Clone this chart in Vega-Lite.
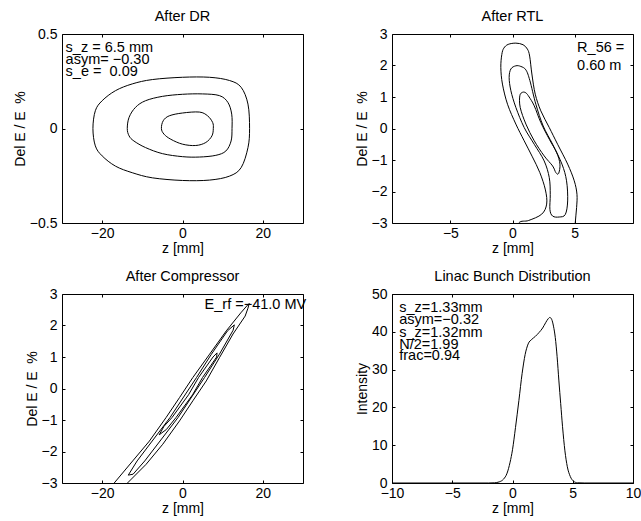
{
"$schema": "https://vega.github.io/schema/vega-lite/v6.json",
"padding": {"left": 12, "top": 8, "right": 0, "bottom": 0},
"background": "white",
"config": {
 "font": "Liberation Sans",
 "view": {"stroke": "black", "strokeWidth": 1},
 "axis": {"grid": false, "domain": false, "tickColor": "black", "tickWidth": 1, "tickSize": -3, "labelFont": "Liberation Sans", "labelFontSize": 14, "labelColor": "black", "titleFont": "Liberation Sans", "titleFontSize": 14, "titleFontWeight": "normal", "titleColor": "black", "labelFlush": false, "labelOverlap": false},
 "axisX": {"titlePadding": 1, "labelPadding": 6},
 "axisY": {"titlePadding": 2, "labelPadding": 8},
 "title": {"font": "Liberation Sans", "fontSize": 14.5, "fontWeight": "normal", "color": "black", "offset": 3},
 "text": {"font": "Liberation Sans", "fontSize": 14.5, "color": "black"},
 "line": {"color": "black", "strokeWidth": 1}
},
"columns": 2,
"spacing": {"row": 71, "column": 89},
"bounds": "flush",
"concat": [
{
 "width": 241, "height": 189, "title": "After DR",
 "layer": [
  {"data": {"values": [
{"c":1,"x":-22.3,"y":0},{"c":1,"x":-21.7,"y":0.094},{"c":1,"x":-20.0,"y":0.147},{"c":1,"x":-16.7,"y":0.2},{"c":1,"x":-12.5,"y":0.236},{"c":1,"x":-7.5,"y":0.259},{"c":1,"x":0,"y":0.271},{"c":1,"x":6.7,"y":0.271},{"c":1,"x":11.7,"y":0.254},{"c":1,"x":14.6,"y":0.218},{"c":1,"x":16.3,"y":0.129},{"c":1,"x":16.7,"y":0},{"c":1,"x":16.3,"y":-0.101},{"c":1,"x":14.6,"y":-0.207},{"c":1,"x":11.7,"y":-0.252},{"c":1,"x":6.7,"y":-0.273},{"c":1,"x":0,"y":-0.275},{"c":1,"x":-7.5,"y":-0.261},{"c":1,"x":-12.5,"y":-0.234},{"c":1,"x":-16.7,"y":-0.199},{"c":1,"x":-20.0,"y":-0.145},{"c":1,"x":-21.7,"y":-0.092},
{"c":2,"x":-13.75,"y":0},{"c":2,"x":-13.3,"y":0.059},{"c":2,"x":-11.7,"y":0.112},{"c":2,"x":-9.2,"y":0.147},{"c":2,"x":-5,"y":0.17},{"c":2,"x":0,"y":0.181},{"c":2,"x":5,"y":0.183},{"c":2,"x":9.2,"y":0.174},{"c":2,"x":11.3,"y":0.138},{"c":2,"x":12.25,"y":0.076},{"c":2,"x":12.33,"y":0},{"c":2,"x":12.1,"y":-0.066},{"c":2,"x":10.8,"y":-0.119},{"c":2,"x":8.3,"y":-0.142},{"c":2,"x":4.2,"y":-0.151},{"c":2,"x":0,"y":-0.149},{"c":2,"x":-5,"y":-0.133},{"c":2,"x":-9.2,"y":-0.101},{"c":2,"x":-12.1,"y":-0.066},{"c":2,"x":-13.3,"y":-0.039},
{"c":3,"x":-5.25,"y":0},{"c":3,"x":-4.8,"y":0.041},{"c":3,"x":-3.3,"y":0.067},{"c":3,"x":0,"y":0.082},{"c":3,"x":4.2,"y":0.087},{"c":3,"x":6.25,"y":0.067},{"c":3,"x":7.5,"y":0.032},{"c":3,"x":7.67,"y":0},{"c":3,"x":7.33,"y":-0.039},{"c":3,"x":5.8,"y":-0.074},{"c":3,"x":3.3,"y":-0.09},{"c":3,"x":0,"y":-0.083},{"c":3,"x":-2.9,"y":-0.057},{"c":3,"x":-4.6,"y":-0.03}
  ]},
   "mark": {"type": "line", "interpolate": "cardinal-closed", "clip": true},
   "encoding": {
    "x": {"field": "x", "type": "quantitative", "scale": {"domain": [-30, 30], "nice": false, "zero": false}, "axis": {"orient": "bottom", "values": [-20, 0, 20], "format": "~f", "title": "z [mm]"}},
    "y": {"field": "y", "type": "quantitative", "scale": {"domain": [-0.5, 0.5], "nice": false, "zero": false}, "axis": {"orient": "left", "values": [-0.5, 0, 0.5], "format": "~f", "title": "Del E / E \u00a0%"}},
    "detail": {"field": "c"},
    "order": {"value": null}
   }},
  {"data": {"values": [
{"x":-29.1,"y":0.427,"t":"s_z = 6.5 mm"},{"x":-29.1,"y":0.363,"t":"asym= −0.30"},{"x":-29.1,"y":0.299,"t":"s_e = \u00a00.09"}
  ]},
   "mark": {"type": "text", "align": "left", "baseline": "middle"},
   "encoding": {
    "x": {"field": "x", "type": "quantitative", "scale": {"domain": [-30, 30], "nice": false, "zero": false}, "axis": {"orient": "top", "values": [-20, 0, 20], "labels": false, "title": null}},
    "y": {"field": "y", "type": "quantitative", "scale": {"domain": [-0.5, 0.5], "nice": false, "zero": false}, "axis": {"orient": "right", "values": [-0.5, 0, 0.5], "labels": false, "title": null}},
    "text": {"field": "t"}
   }}
 ],
 "resolve": {"axis": {"x": "independent", "y": "independent"}}
},
{
 "width": 241, "height": 189, "title": "After RTL",
 "layer": [
  {"data": {"values": [
{"c":1,"x":0.27,"y":2.71},{"c":1,"x":0.85,"y":2.66},{"c":1,"x":1.2,"y":2.52},{"c":1,"x":1.38,"y":2.3},{"c":1,"x":1.56,"y":1.73},{"c":1,"x":1.83,"y":1.09},{"c":1,"x":2.28,"y":0.56},{"c":1,"x":2.96,"y":0.03},{"c":1,"x":3.63,"y":-0.5},{"c":1,"x":4.44,"y":-1.13},{"c":1,"x":4.97,"y":-1.66},{"c":1,"x":5.19,"y":-2.09},{"c":1,"x":5.16,"y":-2.51},{"c":1,"x":5.05,"y":-3.0},{"c":1,"x":5.0,"y":-3.5},{"c":1,"x":0.0,"y":-3.5},{"c":1,"x":0.5,"y":-3.0},{"c":1,"x":1.3,"y":-2.92},{"c":1,"x":2.35,"y":-2.72},{"c":1,"x":2.75,"y":-2.4},{"c":1,"x":2.65,"y":-1.95},{"c":1,"x":2.2,"y":-1.4},{"c":1,"x":1.6,"y":-0.9},{"c":1,"x":0.94,"y":-0.39},{"c":1,"x":0.27,"y":0.14},{"c":1,"x":-0.4,"y":0.77},{"c":1,"x":-0.81,"y":1.41},{"c":1,"x":-0.94,"y":1.94},{"c":1,"x":-0.86,"y":2.35},{"c":1,"x":-0.7,"y":2.55},{"c":1,"x":-0.35,"y":2.67},
{"c":2,"x":0.27,"y":1.99},{"c":2,"x":0.67,"y":1.97},{"c":2,"x":1.08,"y":1.86},{"c":2,"x":1.4,"y":1.52},{"c":2,"x":1.88,"y":0.77},{"c":2,"x":2.47,"y":0.08},{"c":2,"x":3.23,"y":-0.5},{"c":2,"x":3.98,"y":-1.13},{"c":2,"x":4.35,"y":-1.66},{"c":2,"x":4.44,"y":-2.3},{"c":2,"x":4.25,"y":-2.73},{"c":2,"x":3.76,"y":-2.81},{"c":2,"x":3.23,"y":-2.78},{"c":2,"x":3.01,"y":-2.57},{"c":2,"x":3.04,"y":-2.09},{"c":2,"x":2.96,"y":-1.56},{"c":2,"x":2.55,"y":-1.03},{"c":2,"x":1.75,"y":-0.5},{"c":2,"x":0.94,"y":0.03},{"c":2,"x":0.27,"y":0.67},{"c":2,"x":-0.13,"y":1.2},{"c":2,"x":-0.27,"y":1.62},{"c":2,"x":-0.13,"y":1.89},
{"c":3,"x":0.81,"y":1.15},{"c":3,"x":1.08,"y":1.13},{"c":3,"x":1.34,"y":1.0},{"c":3,"x":1.75,"y":0.72},{"c":3,"x":2.28,"y":0.19},{"c":3,"x":2.96,"y":-0.34},{"c":3,"x":3.55,"y":-0.76},{"c":3,"x":3.82,"y":-1.13},{"c":3,"x":3.71,"y":-1.43},{"c":3,"x":3.49,"y":-1.4},{"c":3,"x":3.23,"y":-1.19},{"c":3,"x":2.55,"y":-0.87},{"c":3,"x":1.75,"y":-0.39},{"c":3,"x":1.08,"y":0.14},{"c":3,"x":0.62,"y":0.67},{"c":3,"x":0.59,"y":1.04}
  ]},
   "mark": {"type": "line", "interpolate": "cardinal-closed", "clip": true},
   "encoding": {
    "x": {"field": "x", "type": "quantitative", "scale": {"domain": [-9.7, 9.7], "nice": false, "zero": false}, "axis": {"orient": "bottom", "values": [-5, 0, 5], "format": "~f", "title": "z [mm]"}},
    "y": {"field": "y", "type": "quantitative", "scale": {"domain": [-3, 3], "nice": false, "zero": false}, "axis": {"orient": "left", "values": [-3, -2, -1, 0, 1, 2, 3], "format": "~f", "title": "Del E / E \u00a0%"}},
    "detail": {"field": "c"},
    "order": {"value": null}
   }},
  {"data": {"values": [
{"x":5.2,"y":2.54,"t":"R_56 ="},{"x":5.2,"y":1.97,"t":"0.60 m"}
  ]},
   "mark": {"type": "text", "align": "left", "baseline": "middle"},
   "encoding": {
    "x": {"field": "x", "type": "quantitative", "scale": {"domain": [-9.7, 9.7], "nice": false, "zero": false}, "axis": {"orient": "top", "values": [-5, 0, 5], "labels": false, "title": null}},
    "y": {"field": "y", "type": "quantitative", "scale": {"domain": [-3, 3], "nice": false, "zero": false}, "axis": {"orient": "right", "values": [-3, -2, -1, 0, 1, 2, 3], "labels": false, "title": null}},
    "text": {"field": "t"}
   }}
 ],
 "resolve": {"axis": {"x": "independent", "y": "independent"}}
},
{
 "width": 241, "height": 189, "title": "After Compressor",
 "layer": [
  {"data": {"values": [
{"c":1,"x":-17.0,"y":-3.0},{"c":1,"x":-12.4,"y":-2.3},{"c":1,"x":-8.25,"y":-1.67},{"c":1,"x":-4.08,"y":-0.92},{"c":1,"x":-0.75,"y":-0.29},{"c":1,"x":2.58,"y":0.35},{"c":1,"x":6.75,"y":1.09},{"c":1,"x":10.9,"y":1.83},{"c":1,"x":14.5,"y":2.4},{"c":1,"x":16.0,"y":2.62},{"c":1,"x":16.6,"y":2.7},{"c":1,"x":16.3,"y":2.55},{"c":1,"x":15.6,"y":2.3},{"c":1,"x":12.58,"y":1.73},{"c":1,"x":9.25,"y":0.99},{"c":1,"x":5.92,"y":0.24},{"c":1,"x":2.58,"y":-0.39},{"c":1,"x":-0.75,"y":-1.03},{"c":1,"x":-4.92,"y":-1.77},{"c":1,"x":-9.08,"y":-2.41},{"c":1,"x":-13.7,"y":-3.0},
{"c":2,"x":-13.5,"y":-2.75},{"c":2,"x":-11.3,"y":-2.3},{"c":2,"x":-3.1,"y":-0.92},{"c":2,"x":3.5,"y":0.35},{"c":2,"x":7.2,"y":1.09},{"c":2,"x":11.2,"y":1.83},{"c":2,"x":12.9,"y":2.02},{"c":2,"x":12.6,"y":1.85},{"c":2,"x":9.2,"y":1.09},{"c":2,"x":5.5,"y":0.35},{"c":2,"x":-1.1,"y":-0.92},{"c":2,"x":-9.4,"y":-2.3},{"c":2,"x":-12.3,"y":-2.72},{"c":2,"x":-13.5,"y":-2.75},
{"c":3,"x":-5.8,"y":-1.47},{"c":3,"x":-4.6,"y":-1.2},{"c":3,"x":-2.6,"y":-0.92},{"c":3,"x":1.5,"y":-0.2},{"c":3,"x":4.0,"y":0.35},{"c":3,"x":7.6,"y":1.0},{"c":3,"x":8.6,"y":1.13},{"c":3,"x":8.5,"y":1.0},{"c":3,"x":5.0,"y":0.35},{"c":3,"x":2.5,"y":-0.2},{"c":3,"x":-1.6,"y":-0.92},{"c":3,"x":-4.0,"y":-1.3},{"c":3,"x":-5.8,"y":-1.47}
  ]},
   "mark": {"type": "line", "interpolate": "linear", "clip": true},
   "encoding": {
    "x": {"field": "x", "type": "quantitative", "scale": {"domain": [-30, 30], "nice": false, "zero": false}, "axis": {"orient": "bottom", "values": [-20, 0, 20], "format": "~f", "title": "z [mm]"}},
    "y": {"field": "y", "type": "quantitative", "scale": {"domain": [-3, 3], "nice": false, "zero": false}, "axis": {"orient": "left", "values": [-3, -2, -1, 0, 1, 2, 3], "format": "~f", "title": "Del E / E \u00a0%"}},
    "detail": {"field": "c"},
    "order": {"value": null}
   }},
  {"data": {"values": [
{"x":5.5,"y":2.66,"t":"E_rf =−41.0 MV"}
  ]},
   "mark": {"type": "text", "align": "left", "baseline": "middle"},
   "encoding": {
    "x": {"field": "x", "type": "quantitative", "scale": {"domain": [-30, 30], "nice": false, "zero": false}, "axis": {"orient": "top", "values": [-20, 0, 20], "labels": false, "title": null}},
    "y": {"field": "y", "type": "quantitative", "scale": {"domain": [-3, 3], "nice": false, "zero": false}, "axis": {"orient": "right", "values": [-3, -2, -1, 0, 1, 2, 3], "labels": false, "title": null}},
    "text": {"field": "t"}
   }}
 ],
 "resolve": {"axis": {"x": "independent", "y": "independent"}}
},
{
 "width": 241, "height": 189, "title": "Linac Bunch Distribution",
 "layer": [
  {"data": {"values": [
{"x":-10,"y":0},{"x":-2,"y":0},{"x":-1.5,"y":0.05},{"x":-1.1,"y":0.3},{"x":-0.75,"y":1.0},{"x":-0.45,"y":2.6},{"x":-0.2,"y":5.5},{"x":0.0,"y":8.8},{"x":0.25,"y":14.7},{"x":0.53,"y":21.8},{"x":0.8,"y":29.0},{"x":1.05,"y":34.0},{"x":1.3,"y":36.8},{"x":1.6,"y":38.0},{"x":1.9,"y":38.8},{"x":2.2,"y":39.8},{"x":2.5,"y":41.0},{"x":2.75,"y":42.4},{"x":2.95,"y":43.4},{"x":3.1,"y":43.8},{"x":3.25,"y":43.3},{"x":3.4,"y":41.5},{"x":3.55,"y":38.5},{"x":3.7,"y":33.5},{"x":3.85,"y":27.0},{"x":4.0,"y":21.0},{"x":4.15,"y":15.0},{"x":4.35,"y":8.5},{"x":4.55,"y":4.3},{"x":4.8,"y":1.7},{"x":5.05,"y":0.5},{"x":5.4,"y":0.05},{"x":6,"y":0},{"x":10,"y":0}
  ]},
   "mark": {"type": "line", "interpolate": "monotone", "clip": true},
   "encoding": {
    "x": {"field": "x", "type": "quantitative", "scale": {"domain": [-10, 10], "nice": false, "zero": false}, "axis": {"orient": "bottom", "values": [-10, -5, 0, 5, 10], "format": "~f", "title": "z [mm]"}},
    "y": {"field": "y", "type": "quantitative", "scale": {"domain": [0, 50], "nice": false, "zero": false}, "axis": {"orient": "left", "values": [0, 10, 20, 30, 40, 50], "format": "~f", "title": "Intensity"}}
   }},
  {"data": {"values": [
{"x":-9.4,"y":46.2,"t":"s_z=1.33mm"},{"x":-9.4,"y":43.0,"t":"asym=−0.32"},{"x":-9.4,"y":39.8,"t":"s_z=1.32mm"},{"x":-9.4,"y":36.6,"t":"N/2=1.99"},{"x":-9.4,"y":33.6,"t":"frac=0.94"}
  ]},
   "mark": {"type": "text", "align": "left", "baseline": "middle"},
   "encoding": {
    "x": {"field": "x", "type": "quantitative", "scale": {"domain": [-10, 10], "nice": false, "zero": false}, "axis": {"orient": "top", "values": [-10, -5, 0, 5, 10], "labels": false, "title": null}},
    "y": {"field": "y", "type": "quantitative", "scale": {"domain": [0, 50], "nice": false, "zero": false}, "axis": {"orient": "right", "values": [0, 10, 20, 30, 40, 50], "labels": false, "title": null}},
    "text": {"field": "t"}
   }}
 ],
 "resolve": {"axis": {"x": "independent", "y": "independent"}}
}
]
}
